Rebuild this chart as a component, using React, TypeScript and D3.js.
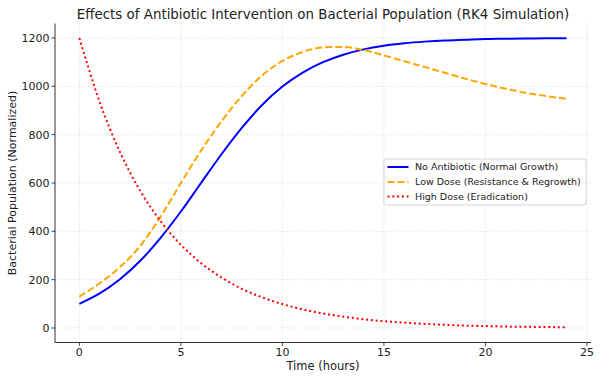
import React from 'react';
import * as d3 from 'd3';

const hours = [0, 1, 2, 3, 4, 5, 6, 7, 8, 9, 10, 11, 12, 13, 14, 15, 16, 17, 18, 19, 20, 21, 22, 23, 24];
const noAntibiotic = [100, 143, 202, 278, 373, 482, 601, 719, 828, 923, 999, 1057, 1100, 1131, 1153, 1168, 1178, 1185, 1190, 1193, 1196, 1197, 1198, 1199, 1199];
const lowDose = [130, 185, 252, 340, 460, 600, 735, 855, 960, 1045, 1105, 1142, 1161, 1163, 1150, 1128, 1104, 1080, 1056, 1032, 1010, 990, 973, 960, 948];
const highDose = [1200, 935, 728, 567, 442, 344, 268, 209, 162, 127, 99, 77, 60, 47, 36, 28, 22, 17, 13, 10, 8, 6, 5, 4, 3];
const seriesNames = ['No Antibiotic (Normal Growth)', 'Low Dose (Resistance & Regrowth)', 'High Dose (Eradication)'];
const xTicks = [0, 5, 10, 15, 20, 25];
const yTicks = [0, 200, 400, 600, 800, 1000, 1200];
const title = 'Effects of Antibiotic Intervention on Bacterial Population (RK4 Simulation)';
const xLabel = 'Time (hours)';
const yLabel = 'Bacterial Population (Normalized)';

export default function App() {
  const W = 601, H = 379;
  const left = 55, right = 591, top = 23.5, bottom = 342.5;
  const x = d3.scaleLinear().domain([-1.2, 25.2]).range([left, right]);
  const y = d3.scaleLinear().domain([-60, 1260]).range([bottom, top]);
  const line = d3.line<number>().x((_, i) => x(hours[i])).y(d => y(d)).curve(d3.curveMonotoneX);
  const series = [
    { data: noAntibiotic, color: '#0000ff', dash: undefined as string | undefined },
    { data: lowDose, color: '#ffa500', dash: '7,3' },
    { data: highDose, color: '#ff0000', dash: '2,2.8' },
  ];
  const font = 'DejaVu Sans, sans-serif';
  const textColor = '#222';
  const legX = 384, legY = 159, legW = 202, legH = 46;
  const rowY = [167, 182, 196.5];
  return (
    <svg width={W} height={H} style={{ position: 'absolute', left: 0, top: 0, background: '#fff' }} fontFamily={font}>
      <rect x={0} y={0} width={W} height={H} fill="#fff" />
      {xTicks.map(t => (
        <line key={'gx' + t} x1={x(t)} x2={x(t)} y1={top} y2={bottom} stroke="#d0d0d0" strokeWidth={0.8} strokeDasharray="1,2" />
      ))}
      {yTicks.map(t => (
        <line key={'gy' + t} x1={left} x2={right} y1={y(t)} y2={y(t)} stroke="#d0d0d0" strokeWidth={0.8} strokeDasharray="1,2" />
      ))}
      {series.map((s, i) => (
        <path key={'s' + i} d={line(s.data) || ''} fill="none" stroke={s.color} strokeWidth={2} strokeDasharray={s.dash} />
      ))}
      <line x1={left} x2={left} y1={top} y2={bottom} stroke="#333" strokeWidth={1} />
      <line x1={left} x2={right} y1={bottom} y2={bottom} stroke="#333" strokeWidth={1} />
      {xTicks.map(t => (
        <g key={'tx' + t}>
          <line x1={x(t)} x2={x(t)} y1={bottom} y2={bottom + 3.5} stroke="#333" strokeWidth={0.9} />
          <text x={x(t)} y={355.5} textAnchor="middle" fontSize={11} fill={textColor}>{t}</text>
        </g>
      ))}
      {yTicks.map(t => (
        <g key={'ty' + t}>
          <line x1={left - 3.5} x2={left} y1={y(t)} y2={y(t)} stroke="#333" strokeWidth={0.9} />
          <text x={49.5} y={y(t) + 4} textAnchor="end" fontSize={11} fill={textColor}>{t}</text>
        </g>
      ))}
      <text x={(left + right) / 2} y={18.5} textAnchor="middle" fontSize={13.4} fill={textColor}>{title}</text>
      <text x={(left + right) / 2} y={369.5} textAnchor="middle" fontSize={11.5} fill={textColor}>{xLabel}</text>
      <text transform={`translate(16,${(top + bottom) / 2}) rotate(-90)`} textAnchor="middle" fontSize={11} fill={textColor}>{yLabel}</text>
      <rect x={legX} y={legY} width={legW} height={legH} rx={2} fill="#fff" fillOpacity={0.85} stroke="#ccc" strokeWidth={0.8} />
      {series.map((s, i) => (
        <g key={'l' + i}>
          <line x1={387.5} x2={408.5} y1={rowY[i]} y2={rowY[i]} stroke={s.color} strokeWidth={2} strokeDasharray={s.dash} />
          <text x={415} y={rowY[i] + 3.4} fontSize={9.5} fill={textColor}>{seriesNames[i]}</text>
        </g>
      ))}
    </svg>
  );
}
